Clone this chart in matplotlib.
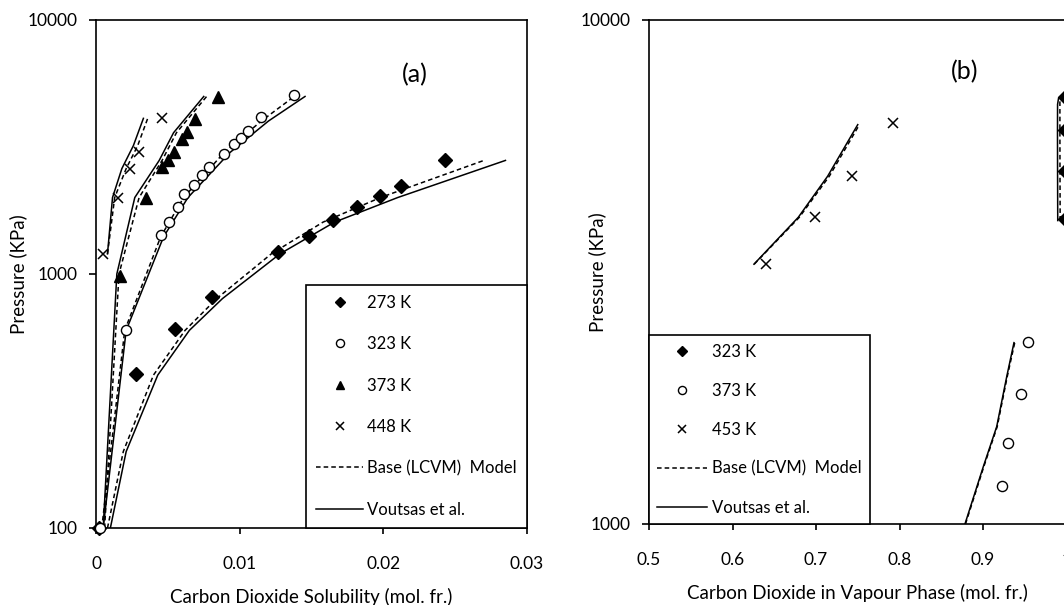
import numpy as np
import matplotlib.pyplot as plt
from matplotlib.ticker import NullLocator

plt.rcParams['font.family'] = ['Lato', 'DejaVu Sans']
plt.rcParams['font.size'] = 12.5

# ---- panel (a): CO2 solubility in liquid phase ----
x273 = [0.0002, 0.0028, 0.0055, 0.0081, 0.01265, 0.0148, 0.0165, 0.0182, 0.0198, 0.0212, 0.0243]
p273 = [100, 404, 607, 810, 1219, 1410, 1635, 1839, 2036, 2222, 2802]
x323 = [0.0003, 0.0021, 0.0045, 0.0051, 0.0057, 0.0061, 0.0068, 0.0074, 0.0079, 0.0089,
        0.0096, 0.0101, 0.0106, 0.0115, 0.0138]
p323 = [100, 602, 1426, 1607, 1839, 2066, 2241, 2455, 2647, 2972, 3247, 3440, 3652, 4144, 5051]
x373 = [0.0017, 0.0035, 0.0046, 0.0050, 0.0054, 0.0060, 0.0063, 0.0069, 0.0085]
p373 = [983, 1985, 2647, 2800, 3030, 3402, 3612, 4070, 4980]
x448 = [0.0005, 0.00155, 0.0024, 0.0030, 0.0046]
p448 = [1196, 1985, 2586, 3030, 4110]

# model curves (a)
pm273 = [100, 200, 400, 600, 800, 1200, 1600, 2000, 2800]
base273 = [0.0008, 0.0019, 0.0040, 0.0062, 0.0084, 0.0122, 0.0158, 0.0198, 0.0270]
vout273 = [0.0010, 0.0021, 0.0043, 0.0065, 0.0088, 0.0128, 0.0166, 0.0210, 0.0285]
pm323 = [100, 600, 1400, 2000, 3000, 4000, 5000]
base323 = [0.0004, 0.0020, 0.0045, 0.0061, 0.0089, 0.0115, 0.0138]
vout323 = [0.0005, 0.0021, 0.0047, 0.0064, 0.0093, 0.0120, 0.01455]
pm373 = [100, 1000, 2000, 2800, 3600, 5000]
base373 = [0.0006, 0.0016, 0.0030, 0.0046, 0.0056, 0.0077]
vout373 = [0.0005, 0.00145, 0.0027, 0.0044, 0.0054, 0.0075]
pm448 = [1200, 2000, 2600, 3200, 4100]
base448 = [0.0008, 0.0013, 0.0021, 0.0029, 0.0036]
vout448 = [0.0008, 0.00115, 0.0018, 0.0026, 0.0033]

# ---- panel (b): CO2 in vapour phase ----
y323 = [0.998, 0.998, 0.998, 0.998]
q323 = [4023, 5023, 6049, 7044]
y373 = [0.9224, 0.9303, 0.9451, 0.9542]
q373 = [1191, 1450, 1811, 2298]
y453 = [0.640, 0.699, 0.743, 0.792]
q453 = [3277, 4060, 4905, 6234]

qm323 = [4000, 5000, 6000, 6800, 7000]
vbase323 = [0.9924, 0.9922, 0.9921, 0.9921, 0.9921]
vvout323 = [0.9895, 0.9893, 0.9892, 0.9893, 0.9905]
qm373 = [1000, 1300, 1560, 1960, 2290]
vbase373 = [0.8790, 0.9010, 0.9170, 0.9290, 0.9380]
vvout373 = [0.8784, 0.9004, 0.9164, 0.9284, 0.9371]
qm453 = [3277, 4060, 4900, 6200]
vbase453 = [0.626, 0.680, 0.716, 0.752]
vvout453 = [0.6257, 0.6788, 0.714, 0.750]

fig = plt.figure(figsize=(10.64, 6.05), dpi=100)
ax1 = fig.add_axes([96 / 1064, 1 - 528 / 605, 431 / 1064, 508 / 605])
ax2 = fig.add_axes([649 / 1064, 1 - 524 / 605, 417.5 / 1064, 504 / 605])

dash = (0, (3, 2))
lw = 1.1
mk = dict(color='black', clip_on=False, linestyle='none', zorder=3)
base_lbl = 'Base (LCVM)  Model'

# panel (a)
ax1.plot(x273, p273, marker='D', markersize=7, label='273 K', **mk)
ax1.plot(x323, p323, marker='o', markersize=7.3, markerfacecolor='white',
         markeredgewidth=1.0, label='323 K', **mk)
ax1.plot(x373, p373, marker='^', markersize=8, label='373 K', **mk)
ax1.plot(x448, p448, marker='x', markersize=6.5, markeredgewidth=1.1, label='448 K', **mk)
for xb, xv, pm in [(base273, vout273, pm273), (base323, vout323, pm323),
                   (base373, vout373, pm373), (base448, vout448, pm448)]:
    ax1.plot(xb, pm, color='black', lw=lw, linestyle=dash)
    ax1.plot(xv, pm, color='black', lw=lw)
ax1.plot([], [], color='black', lw=lw, linestyle=dash, label=base_lbl)
ax1.plot([], [], color='black', lw=lw, label='Voutsas et al.')

ax1.set_yscale('log')
ax1.set_xlim(0, 0.03)
ax1.set_ylim(100, 10000)
ax1.set_xticks([0, 0.01, 0.02, 0.03])
ax1.set_xticklabels(['0', '0.01', '0.02', '0.03'])
ax1.set_yticks([100, 1000, 10000])
ax1.set_yticklabels(['100', '1000', '10000'])
ax1.set_xlabel('Carbon Dioxide Solubility (mol. fr.)', fontsize=13.5, labelpad=11)
ax1.set_ylabel('Pressure (KPa)', fontsize=13.5)
ax1.yaxis.set_label_coords(-0.160, 0.5)
ax1.text(0.74, 0.892, '(a)', transform=ax1.transAxes, fontsize=18, ha='center', va='center')
leg1 = ax1.legend(loc='lower right', bbox_to_anchor=(1, 0), borderaxespad=0,
                  fancybox=False, edgecolor='black', framealpha=1, markerscale=0.8,
                  labelspacing=1.52, handlelength=2.8, handletextpad=0.24,
                  borderpad=0.62, fontsize=12)
leg1.get_frame().set_linewidth(1.2)

# panel (b)
ax2.plot(y323, q323, marker='D', markersize=7, label='323 K', **mk)
ax2.plot(y373, q373, marker='o', markersize=7.3, markerfacecolor='white',
         markeredgewidth=1.0, label='373 K', **mk)
ax2.plot(y453, q453, marker='x', markersize=6.5, markeredgewidth=1.1, label='453 K', **mk)
for xb, xv, pm in [(vbase323, vvout323, qm323), (vbase373, vvout373, qm373),
                   (vbase453, vvout453, qm453)]:
    ax2.plot(xb, pm, color='black', lw=lw, linestyle=dash)
    ax2.plot(xv, pm, color='black', lw=lw)
ax2.plot([], [], color='black', lw=lw, linestyle=dash, label=base_lbl)
ax2.plot([], [], color='black', lw=lw, label='Voutsas et al.')

ax2.set_yscale('log')
ax2.set_xlim(0.5, 1.0)
ax2.set_ylim(1000, 10000)
ax2.set_xticks([0.5, 0.6, 0.7, 0.8, 0.9, 1.0])
ax2.set_xticklabels(['0.5', '0.6', '0.7', '0.8', '0.9', '1'])
ax2.set_yticks([1000, 10000])
ax2.set_yticklabels(['1000', '10000'])
ax2.set_xlabel('Carbon Dioxide in Vapour Phase (mol. fr.)', fontsize=13.5, labelpad=11)
ax2.set_ylabel('Pressure (KPa)', fontsize=13.5)
ax2.yaxis.set_label_coords(-0.103, 0.5)
ax2.text(0.757, 0.897, '(b)', transform=ax2.transAxes, fontsize=18, ha='center', va='center')
leg2 = ax2.legend(loc='lower left', bbox_to_anchor=(0, 0), borderaxespad=0,
                  fancybox=False, edgecolor='black', framealpha=1, markerscale=0.8,
                  labelspacing=1.38, handlelength=3.0, handletextpad=0.26,
                  borderpad=0.5, fontsize=12)
leg2.get_frame().set_linewidth(1.2)

for ax in (ax1, ax2):
    ax.yaxis.set_minor_locator(NullLocator())
    ax.xaxis.set_minor_locator(NullLocator())
    for s in ax.spines.values():
        s.set_linewidth(1.2)
    ax.tick_params(axis='y', direction='out', length=5, width=1.2, pad=8)
    ax.tick_params(axis='x', direction='out', length=4.5, width=1.2, pad=16)

fig.savefig('out.png', dpi=100)
